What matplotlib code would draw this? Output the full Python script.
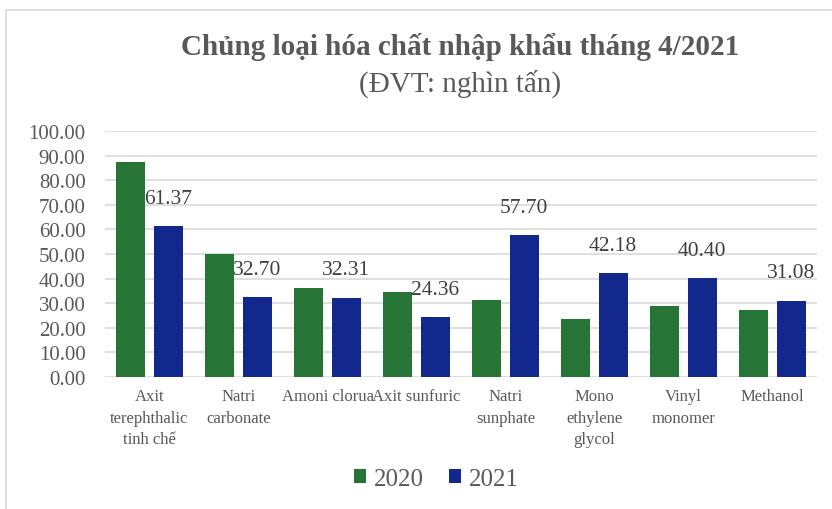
import numpy as np
import matplotlib.pyplot as plt
from matplotlib.patches import Rectangle

# data (nghìn tấn)
categories = ['Axit\nterephthalic\ntinh chế', 'Natri\ncarbonate', 'Amoni clorua',
              'Axit sunfuric', 'Natri\nsunphate', 'Mono\nethylene\nglycol',
              'Vinyl\nmonomer', 'Methanol']
values2020 = [87.6, 49.9, 36.0, 34.5, 31.5, 23.7, 29.0, 27.4]
values2021 = [61.37, 32.70, 32.31, 24.36, 57.70, 42.18, 40.40, 31.08]
yticks = [0, 10, 20, 30, 40, 50, 60, 70, 80, 90, 100]

green = '#267537'
blue = '#12288c'
serif = ['Liberation Serif', 'DejaVu Serif']
plt.rcParams['font.family'] = serif

fig = plt.figure(figsize=(8.32, 5.10), dpi=100)
ax = fig.add_axes([105 / 832, 1 - 378 / 510, 712 / 832, 246 / 510])

# frame around the chart, cut at the right and bottom like the screenshot
fig.patches.append(Rectangle((6 / 832, -0.1), 1.1, 1 - 11 / 510 + 0.1,
                             transform=fig.transFigure, fill=False,
                             edgecolor='#d9d9d9', linewidth=1.2))

x = np.arange(len(categories))
w = 0.326
off = 0.208
ax.bar(x - off, values2020, w, color=green, label='2020', zorder=3)
ax.bar(x + off, values2021, w, color=blue, label='2021', zorder=3)

for xi, v in zip(x, values2021):
    ax.annotate('{:.2f}'.format(v), (xi + off, v), xytext=(0, 13),
                textcoords='offset points', ha='center', va='bottom',
                fontsize=15.5, color='#404040')

ax.set_xlim(-0.5, len(categories) - 0.5)
ax.set_ylim(0, 100)
ax.set_yticks(yticks)
ax.set_yticklabels(['{:.2f}'.format(t) for t in yticks], fontsize=15, color='#595959')
ax.set_xticks(x)
ax.set_xticklabels(categories, fontsize=12, color='#595959', linespacing=1.45, va='top')
ax.tick_params(axis='both', length=0)
ax.tick_params(axis='y', pad=14)
ax.tick_params(axis='x', pad=8)
ax.grid(axis='y', color='#d9d9d9', linewidth=1.2, zorder=0)
for s in ax.spines.values():
    s.set_visible(False)

fig.text(460 / 832, 1 - 47 / 510, 'Chủng loại hóa chất nhập khẩu tháng 4/2021',
         ha='center', va='center', fontsize=21, fontweight='bold', color='#595959')
fig.text(460 / 832, 1 - 84 / 510, '(ĐVT: nghìn tấn)', ha='center', va='center',
         fontsize=21, color='#595959')

leg = fig.legend(loc='center', bbox_to_anchor=(436 / 832, 1 - 480 / 510), ncol=2,
                 frameon=False, fontsize=18, handlelength=0.5, handleheight=0.5,
                 handletextpad=0.3, columnspacing=1.0)
for t in leg.get_texts():
    t.set_color('#595959')

fig.savefig('out.png', dpi=100)
